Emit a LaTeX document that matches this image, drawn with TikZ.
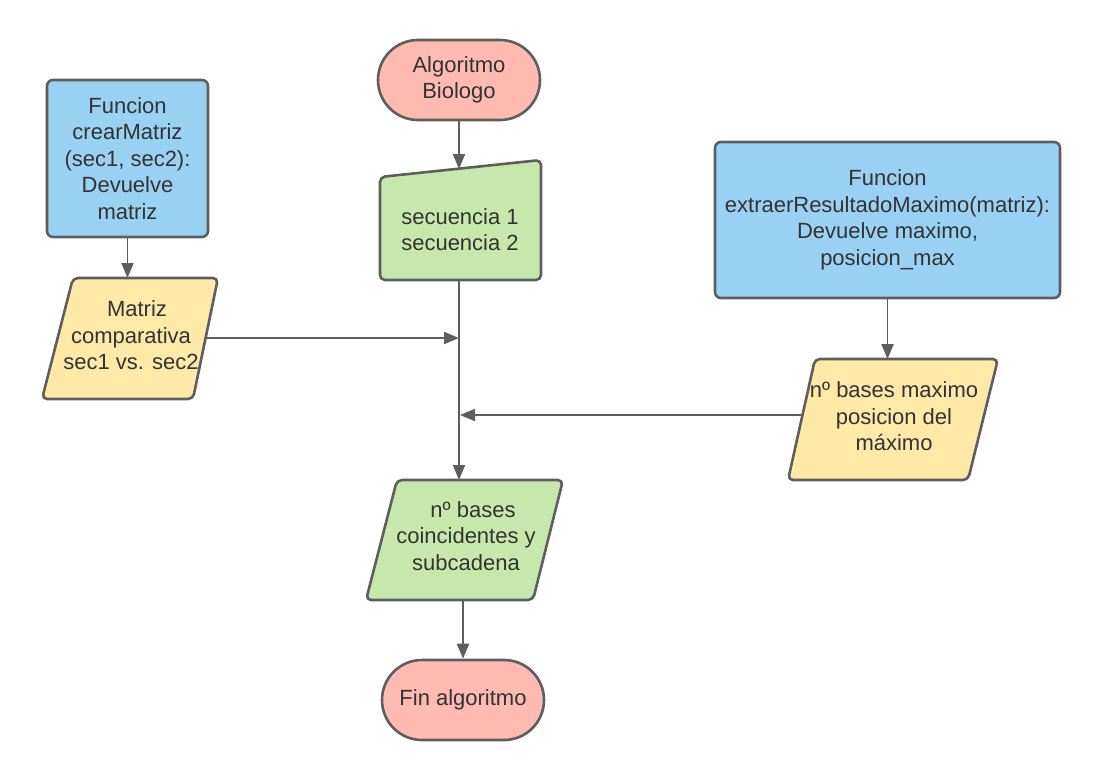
\documentclass[tikz,border=0pt]{standalone}
\usepackage{fontspec}
\setmainfont{Liberation Sans}
\usetikzlibrary{arrows.meta}
\definecolor{edge}{HTML}{5E5E5E}
\definecolor{redfill}{HTML}{FFBBB1}
\definecolor{bluefill}{HTML}{99D1F3}
\definecolor{yellowfill}{HTML}{FFE9A8}
\definecolor{greenfill}{HTML}{C7E8AC}
\definecolor{txt}{HTML}{333333}
\begin{document}
\begin{tikzpicture}[x=1pt,y=-1pt,
  shapeline/.style={draw=edge,line width=2.6pt,rounded corners=5pt,line join=round},
  lbl/.style={text=txt,font=\fontsize{22}{26.5}\selectfont,align=center,inner sep=0pt},
  termbox/.style={lbl,draw=edge,line width=2.6pt,rounded corners=40pt,minimum width=162pt,minimum height=80pt,fill=redfill},
  funcbox/.style={lbl,draw=edge,line width=2.6pt,rounded corners=6pt,fill=bluefill},
  conn/.style={draw=edge,line width=1.9pt,-{Triangle[length=15pt,width=12pt]}},
]
\useasboundingbox (0,0) rectangle (1100,780);
\fill[white] (0,0) rectangle (1100,780);

% terminators
\node[termbox] (start) at (459,80) {Algoritmo\\Biologo};
\node[termbox] (fin) at (463,700) {Fin algoritmo};

% function boxes
\node[funcbox,minimum width=161pt,minimum height=157pt] (crear) at (127.5,158.5)
  {Funcion\\crearMatriz\\(sec1, sec2):\\Devuelve\\matriz};
\node[funcbox,minimum width=345pt,minimum height=156pt] (extr) at (887.5,220)
  {Funcion\\extraerResultadoMaximo(matriz):\\Devuelve maximo,\\posicion\_max};

% manual input
\path[shapeline,fill=greenfill] (380,177) -- (541,160) -- (541,280) -- (380,280) -- cycle;
\node[lbl] (seq) at (460,229.5) {secuencia 1\\secuencia 2};

% parallelograms
\path[shapeline,fill=yellowfill] (73,278) -- (218,278) -- (193,399) -- (42,399) -- cycle;
\node[lbl] (mat) at (131,335.5) {\hspace*{12pt}Matriz\\comparativa\\sec1 vs. sec2};

\path[shapeline,fill=yellowfill] (815,359) -- (998,359) -- (968,480) -- (788,480) -- cycle;
\node[lbl] (maxv) at (894,416.5) {nº bases maximo\\posicion del\\máximo};

\path[shapeline,fill=greenfill] (397,480) -- (563,480) -- (533,600) -- (366,600) -- cycle;
\node[lbl] (res) at (466,536) {\hspace*{14pt}nº bases\\coincidentes y\\subcadena};

% connection points
\coordinate (seqtop) at (459,169);
\coordinate (seqbot) at (459,280);
\coordinate (restop) at (459,480);
\coordinate (resbot) at (463,600);
\coordinate (mattop) at (127.5,278);
\coordinate (matright) at (205,338);
\coordinate (maxtop) at (887.5,359);
\coordinate (maxleft) at (802,415);
\coordinate (j1) at (459,338);
\coordinate (j2) at (460,415);

% connectors
\draw[conn] (start.south) -- (seqtop);
\draw[conn] (crear.south) -- (mattop);
\draw[conn] (extr.south) -- (maxtop);
\draw[conn] (seqbot) -- (restop);
\draw[conn] (matright) -- (j1);
\draw[conn] (maxleft) -- (j2);
\draw[conn] (resbot) -- (fin.north);
\end{tikzpicture}
\end{document}
